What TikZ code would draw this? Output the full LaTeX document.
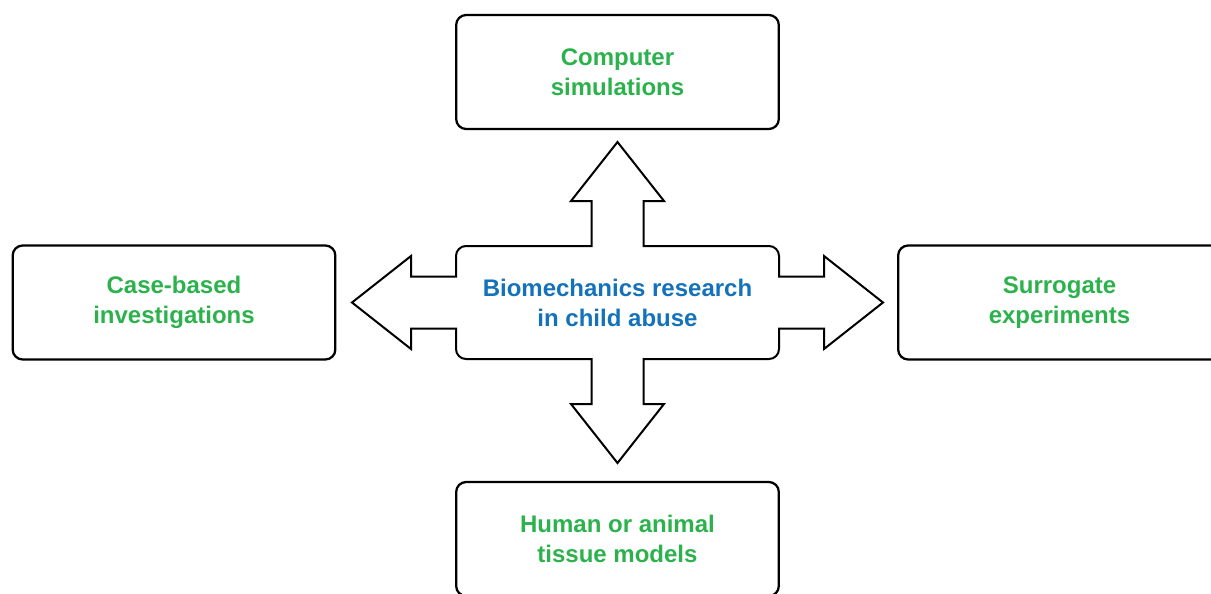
\documentclass[tikz,border=0pt]{standalone}
\usepackage{fontspec}
\setmainfont{Liberation Sans}
\definecolor{leafgreen}{RGB}{44,178,76}
\definecolor{hubblue}{RGB}{20,114,186}

\begin{document}
\begin{tikzpicture}[x=0.75pt,y=0.75pt,
  box/.style={draw,line width=1.7pt,rounded corners=7.5pt,align=center,
    minimum width=242pt,minimum height=85.5pt,text=leafgreen,
    font=\fontsize{18}{22.5}\selectfont\bfseries},
  hubtext/.style={align=center,text=hubblue,
    font=\fontsize{18}{22.5}\selectfont\bfseries},
  hubline/.style={draw,line width=1.5pt,line join=miter}]
\clip (0,0) rectangle (1211,-593);
\node[box] (sim) at (617.5,-72) {Computer\\simulations};
\node[box] (cases) at (174,-302.5) {Case-based\\investigations};
\node[box] (surrogate) at (1059.5,-302.5) {Surrogate\\experiments};
\node[box] (tissue) at (617.5,-539) {Human or animal\\tissue models};
\node[hubtext] (hub) at (617.5,-302.5) {Biomechanics research\\in child abuse};
% centre box with its four arrows
\begin{scope}[shift={(hub.center)}]
\draw[hubline] (26,56.5) -- (26,101.5) -- (46.5,101.5) -- (0,160.5)
  -- (-46.5,101.5) -- (-26,101.5) -- (-26,56.5)
  -- (-151.5,56.5) arc[start angle=90,end angle=180,radius=10]
  -- (-161.5,26) -- (-206.5,26) -- (-206.5,46.5) -- (-265.5,0)
  -- (-206.5,-46.5) -- (-206.5,-26) -- (-161.5,-26)
  -- (-161.5,-46.5) arc[start angle=180,end angle=270,radius=10]
  -- (-26,-56.5) -- (-26,-101.5) -- (-46.5,-101.5) -- (0,-160.5)
  -- (46.5,-101.5) -- (26,-101.5) -- (26,-56.5)
  -- (151.5,-56.5) arc[start angle=270,end angle=360,radius=10]
  -- (161.5,-26) -- (206.5,-26) -- (206.5,-46.5) -- (265.5,0)
  -- (206.5,46.5) -- (206.5,26) -- (161.5,26)
  -- (161.5,46.5) arc[start angle=0,end angle=90,radius=10] -- cycle;
\end{scope}
\end{tikzpicture}
\end{document}
